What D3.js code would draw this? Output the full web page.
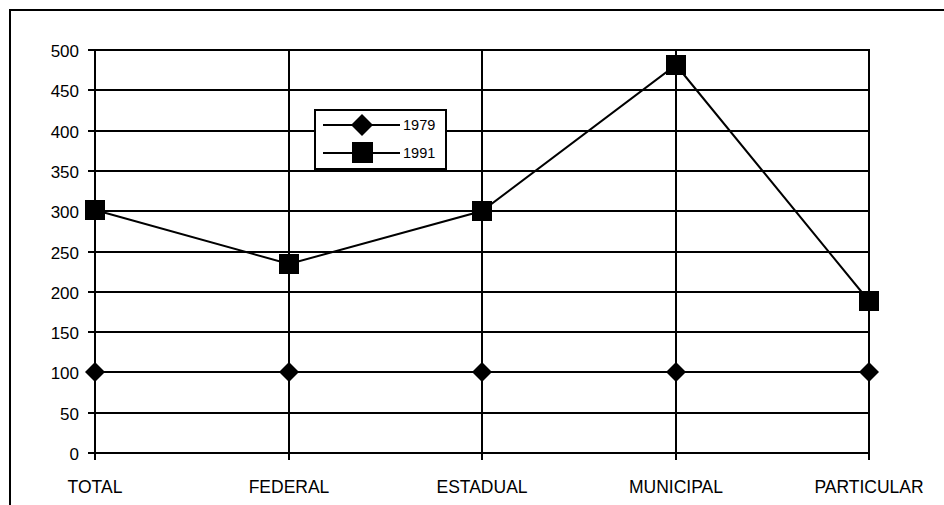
<!DOCTYPE html>
<html><head><meta charset="utf-8">
<script src="https://cdn.jsdelivr.net/npm/d3@7"></script>
<style>body{margin:0;background:#fff}svg{display:block}text{font-family:"Liberation Sans",Arial,sans-serif;fill:#000}</style>
</head><body><svg id="c" width="944" height="505"></svg>
<script>
const categories = ["TOTAL","FEDERAL","ESTADUAL","MUNICIPAL","PARTICULAR"];
const series1979 = [100,100,100,100,100];
const series1991 = [302,235,300,481,189];
const yTicks = [0,50,100,150,200,250,300,350,400,450,500];
const seriesNames = ["1979","1991"];

const svg = d3.select("#c");
const x = d3.scalePoint().domain(categories).range([95,869]);
const y = d3.scaleLinear().domain([0,500]).range([453,50]);
const X = d => Math.round(x(d));
const Y = d => Math.round(y(d));

// outer frame
svg.append("path").attr("d","M10,505 L10,10 L944,10").attr("fill","none").attr("stroke","#000").attr("stroke-width",2);

// horizontal gridlines
svg.append("g").selectAll("line").data(yTicks).join("line")
  .attr("x1",88).attr("x2",870).attr("y1",d=>Y(d)).attr("y2",d=>Y(d))
  .attr("stroke","#000").attr("stroke-width",2);
// vertical gridlines
svg.append("g").selectAll("line").data(categories).join("line")
  .attr("x1",d=>X(d)).attr("x2",d=>X(d)).attr("y1",Y(500)-1).attr("y2",460)
  .attr("stroke","#000").attr("stroke-width",2);

// y labels
svg.append("g").selectAll("text").data(yTicks).join("text")
  .attr("x",79).attr("y",d=>Y(d)+7).attr("text-anchor","end")
  .attr("font-size",17).text(d=>d);
// x labels
svg.append("g").selectAll("text").data(categories).join("text")
  .attr("x",d=>X(d)).attr("y",493).attr("text-anchor","middle")
  .attr("font-size",17.5).text(d=>d);

const line = d3.line().x((d,i)=>X(categories[i])).y(d=>Y(d));
svg.append("path").datum(series1979).attr("d",line).attr("fill","none").attr("stroke","#000").attr("stroke-width",2);
svg.append("path").datum(series1991).attr("d",line).attr("fill","none").attr("stroke","#000").attr("stroke-width",2);

const diamond = (cx,cy,r)=>`M${cx},${cy-r}L${cx+r},${cy}L${cx},${cy+r}L${cx-r},${cy}Z`;
svg.append("g").selectAll("path").data(series1979).join("path")
  .attr("d",(d,i)=>diamond(X(categories[i]),Y(d),10)).attr("fill","#000");
svg.append("g").selectAll("rect").data(series1991).join("rect")
  .attr("x",(d,i)=>X(categories[i])-10).attr("y",d=>Y(d)-10).attr("width",20).attr("height",20).attr("fill","#000");

// legend
const lg = svg.append("g");
lg.append("rect").attr("x",315).attr("y",110).attr("width",131).attr("height",59)
  .attr("fill","#fff").attr("stroke","#000").attr("stroke-width",2);
const ly = [125,153];
seriesNames.forEach((n,i)=>{
  lg.append("line").attr("x1",323).attr("x2",400).attr("y1",ly[i]).attr("y2",ly[i]).attr("stroke","#000").attr("stroke-width",2);
  if(i===0) lg.append("path").attr("d",diamond(362,ly[i],11)).attr("fill","#000");
  else lg.append("rect").attr("x",352).attr("y",ly[i]-11).attr("width",21).attr("height",21).attr("fill","#000");
  lg.append("text").attr("x",403).attr("y",ly[i]+5).attr("font-size",14.5).text(n);
});
</script></body></html>
